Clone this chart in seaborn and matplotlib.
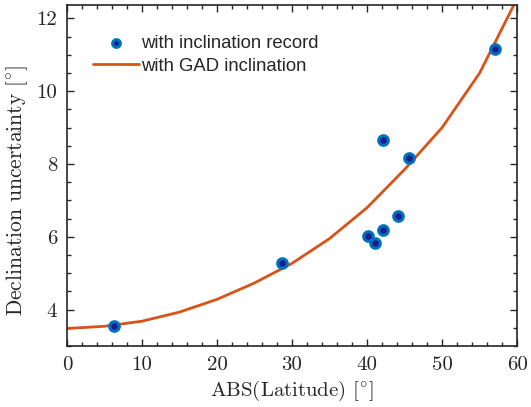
import numpy as np
import pandas as pd
import matplotlib
matplotlib.use('Agg')
import matplotlib.pyplot as plt
import seaborn as sns
from matplotlib.ticker import MultipleLocator

# sites with an inclination record
site_lat = [6.3, 28.7, 40.1, 41.0, 42.1, 44.1, 42.1, 45.6, 57.1]
site_unc = [3.55, 5.28, 6.02, 5.83, 6.18, 6.58, 8.65, 8.17, 11.17]

# GAD curve
gad_lat = [0, 5, 10, 15, 20, 25, 30, 35, 40, 45, 50, 55, 60]
gad_unc = [3.48, 3.54, 3.68, 3.93, 4.28, 4.73, 5.27, 5.95, 6.8, 7.85, 9.0, 10.5, 12.55]

sites = pd.DataFrame({'lat': site_lat, 'unc': site_unc})
gad = pd.DataFrame({'lat': gad_lat, 'unc': gad_unc})

sns.set_style('ticks')
plt.rcParams['mathtext.fontset'] = 'cm'
plt.rcParams['axes.unicode_minus'] = False

fig = plt.figure(figsize=(5.31, 4.07), dpi=100)
ax = fig.add_axes([0.126, 0.150, 0.848, 0.838])

sns.scatterplot(x='lat', y='unc', data=sites, ax=ax, s=48, color='#1c1c8f',
                edgecolor='#0072BD', linewidth=2.2, zorder=3,
                label='with inclination record')
sns.lineplot(x='lat', y='unc', data=gad, ax=ax, color='#D95319', lw=2,
             label='with GAD inclination', zorder=2)

ax.set_xlim(0, 60)
ax.set_ylim(3.0, 12.37)
ax.xaxis.set_major_locator(MultipleLocator(10))
ax.xaxis.set_minor_locator(MultipleLocator(2))
ax.yaxis.set_major_locator(MultipleLocator(2))
ax.yaxis.set_minor_locator(MultipleLocator(0.5))
ax.tick_params(which='both', direction='in', top=True, right=True, width=1)
ax.tick_params(which='major', length=5, labelsize=15, pad=7)
ax.tick_params(which='minor', length=3)
for lab in ax.get_xticklabels() + ax.get_yticklabels():
    lab.set_fontfamily('cmr10')
for s in ax.spines.values():
    s.set_linewidth(1.2)

ax.set_xlabel(r'ABS(Latitude) [$^{\circ}$]', fontsize=15, family='cmr10', labelpad=4)
ax.set_ylabel(r'Declination uncertainty [$^{\circ}$]', fontsize=15.5, family='cmr10')
ax.yaxis.set_label_coords(-0.082, 0.455)

leg = ax.legend(loc='upper left', bbox_to_anchor=(0.02, 0.96), frameon=False,
                prop={'family': 'Liberation Sans', 'size': 13.3},
                handlelength=2.5, handletextpad=0.1, labelspacing=0.3,
                markerscale=0.8)

fig.savefig('out.png', dpi=100)
